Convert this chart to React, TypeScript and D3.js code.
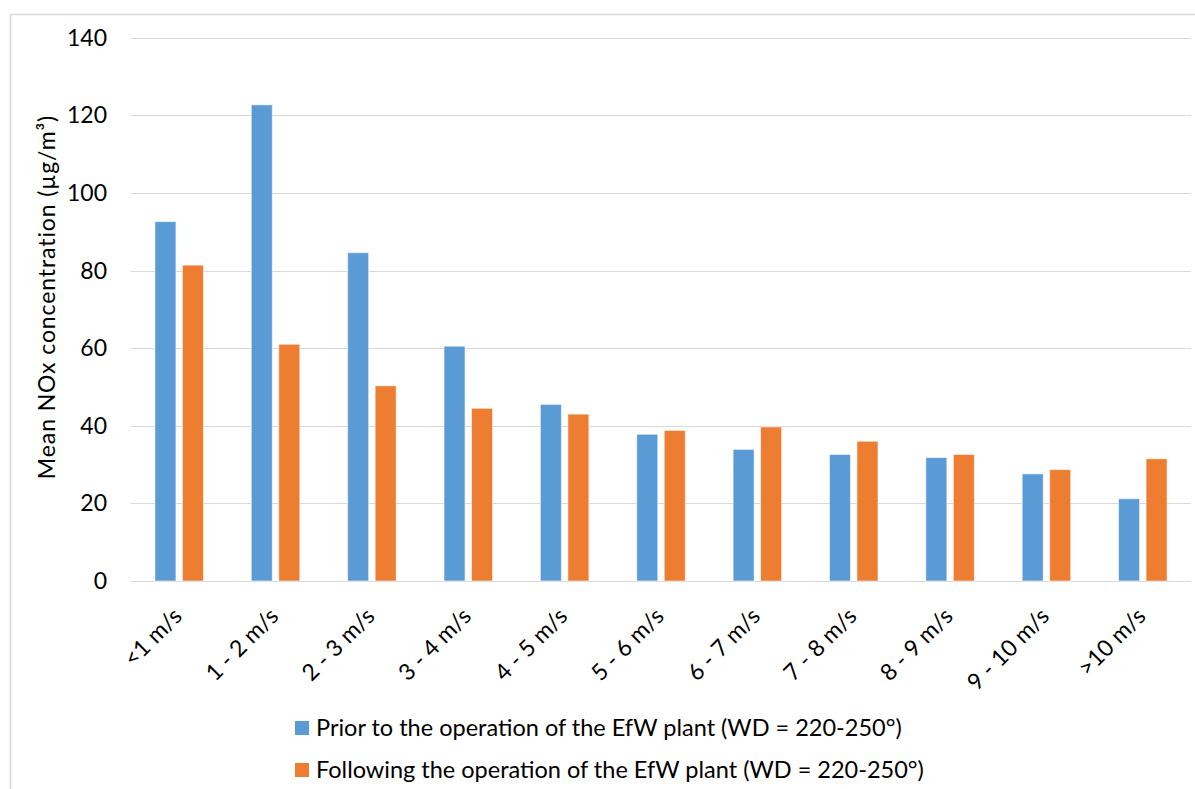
import React from "react";
import * as d3 from "d3";

const categories = ["<1 m/s", "1 - 2 m/s", "2 - 3 m/s", "3 - 4 m/s", "4 - 5 m/s", "5 - 6 m/s", "6 - 7 m/s", "7 - 8 m/s", "8 - 9 m/s", "9 - 10 m/s", ">10 m/s"];
const priorValues = [92.6, 122.7, 84.6, 60.5, 45.5, 37.8, 33.9, 32.6, 31.8, 27.6, 21.2];
const followingValues = [81.4, 61.0, 50.3, 44.5, 43.0, 38.8, 39.7, 36.0, 32.6, 28.7, 31.5];
const yTicks = [0, 20, 40, 60, 80, 100, 120, 140];
const seriesNames = [
  "Prior to the operation of the EfW plant (WD = 220-250°)",
  "Following the operation of the EfW plant (WD = 220-250°)",
];
const seriesColors = ["#5B9BD5", "#ED7D31"];
const yTitle = "Mean NOx concentration  (µg/m³)";

const W = 1195;
const H = 789;
const FONT = "Lato, 'Open Sans', sans-serif";

export default function App() {
  const x = d3.scaleBand<string>().domain(categories).range([131, 1191]).paddingInner(0).paddingOuter(0);
  const y = d3.scaleLinear().domain([0, 140]).range([581, 37.7]);
  const groupWidth = 48.5;
  const inner = d3.scaleBand<number>().domain([0, 1]).range([0, groupWidth]).paddingInner(0.236).paddingOuter(0);
  const series = [priorValues, followingValues];

  return (
    <svg width={W} height={H} style={{ position: "absolute", left: 0, top: 0, background: "#fff" }} fontFamily={FONT}>
      <rect x={10.5} y={14.5} width={W + 20} height={H + 20} fill="#fff" stroke="#d9d9d9" strokeWidth={1.5} />
      {yTicks.map((t) => (
        <g key={t}>
          <line x1={131} x2={1191} y1={Math.round(y(t)) + 0.5} y2={Math.round(y(t)) + 0.5} stroke="#d9d9d9" strokeWidth={1} />
          <text x={107} y={y(t)} dy="0.35em" textAnchor="end" fontSize={23} fill="#000">{t}</text>
        </g>
      ))}
      {series.map((vals, si) =>
        vals.map((v, i) => {
          const cx = (x(categories[i]) as number) + x.bandwidth() / 2;
          const bx = cx - groupWidth / 2 + (inner(si) as number);
          return (
            <rect
              key={`${si}-${i}`}
              x={bx}
              y={y(v)}
              width={inner.bandwidth()}
              height={y(0) - y(v)}
              fill={seriesColors[si]}
              stroke="rgba(255,255,255,0.55)"
              strokeWidth={1}
            />
          );
        })
      )}
      {categories.map((c) => {
        const cx = (x(c) as number) + x.bandwidth() / 2;
        return (
          <text key={c} transform={`translate(${cx - 1.5},${612}) rotate(-45)`} textAnchor="end" dy="0.35em" fontSize={23} fill="#000">
            {c}
          </text>
        );
      })}
      <text transform={`translate(47,297) rotate(-90)`} textAnchor="middle" dy="0.35em" fontSize={23} letterSpacing={0.9} fill="#000">
        {yTitle}
      </text>
      {seriesNames.map((n, i) => (
        <g key={n}>
          <rect x={295} y={721 + i * 42} width={14} height={14} fill={seriesColors[i]} />
          <text x={316} y={728 + i * 42} dy="0.35em" fontSize={23.5} fill="#000">{n}</text>
        </g>
      ))}
    </svg>
  );
}
